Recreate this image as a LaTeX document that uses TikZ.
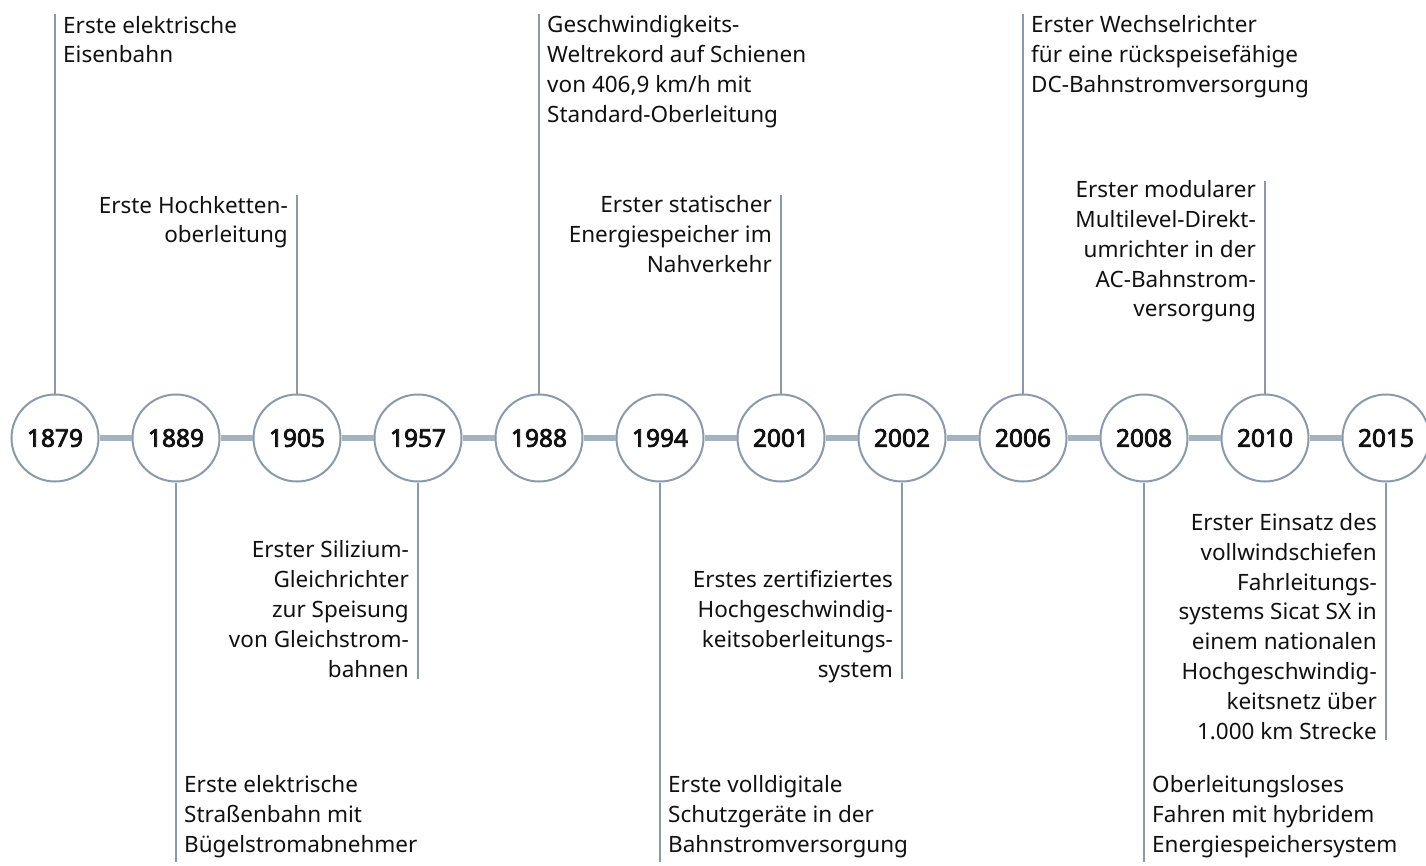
\documentclass[tikz,border=0pt]{standalone}
\usepackage{fontspec}
\setmainfont{Noto Sans}
\newfontfamily\yearfont{Noto Sans}[FakeBold=3]
\definecolor{linec}{HTML}{8A9AAB}
\definecolor{barc}{HTML}{A5B2BF}
\definecolor{txtc}{HTML}{111111}
\begin{document}
\begin{tikzpicture}[x=1pt,y=-1pt,
  yearnode/.style={circle, draw=linec, line width=2pt, fill=white, minimum size=87pt, inner sep=0pt,
    font=\yearfont\fontsize{24.5}{24.5}\selectfont, text=txtc},
  bar/.style={draw=barc, line width=6pt},
  vline/.style={draw=linec, line width=2pt},
  ltxt/.style={inner sep=0pt, align=left, anchor=base west, text=txtc,
    font=\fontsize{22.5}{29.8}\selectfont},
  rtxt/.style={inner sep=0pt, align=right, anchor=base east, text=txtc,
    font=\fontsize{22.5}{29.8}\selectfont}]
\useasboundingbox (0,0) rectangle (1426,866);
% year circles
\foreach \yr [count=\i from 0] in {1879,1889,1905,1957,1988,1994,2001,2002,2006,2008,2010,2015}{
  \node[yearnode] (y\yr) at (55+121*\i, 438) {\yr};
}
% bars
\foreach \a/\b in {1879/1889,1889/1905,1905/1957,1957/1988,1988/1994,1994/2001,2001/2002,2002/2006,2006/2008,2008/2010,2010/2015}{
  \draw[bar] (y\a.east) -- (y\b.west);
}
% top events (anchor = baseline of last line)
\coordinate (c1879) at (55,14);
\draw[vline] (y1879.north) -- (c1879);
\node[ltxt] (t1879) at (63,63) {Erste elektrische\\Eisenbahn};

\coordinate (c1905) at (297,195);
\draw[vline] (y1905.north) -- (c1905);
\node[rtxt] (t1905) at (288,243) {Erste Hochketten-\\oberleitung};

\coordinate (c1988) at (539,14);
\draw[vline] (y1988.north) -- (c1988);
\node[ltxt] (t1988) at (547,122.4) {Geschwindigkeits-\\Weltrekord auf Schienen\\von 406,9 km/h mit\\Standard-Oberleitung};

\coordinate (c2001) at (781,195);
\draw[vline] (y2001.north) -- (c2001);
\node[rtxt] (t2001) at (772,272.6) {Erster statischer\\Energiespeicher im\\Nahverkehr};

\coordinate (c2006) at (1023,14);
\draw[vline] (y2006.north) -- (c2006);
\node[ltxt] (t2006) at (1031,92.6) {Erster Wechselrichter\\für eine rückspeisefähige\\DC-Bahnstromversorgung};

\coordinate (c2010) at (1265,181);
\draw[vline] (y2010.north) -- (c2010);
\node[rtxt] (t2010) at (1256,317) {Erster modularer\\Multilevel-Direkt-\\umrichter in der\\AC-Bahnstrom-\\versorgung};

% bottom events
\coordinate (c1889) at (176,862);
\draw[vline] (y1889.south) -- (c1889);
\node[ltxt] (t1889) at (184,852) {Erste elektrische\\Straßenbahn mit\\Bügelstromabnehmer};

\coordinate (c1957) at (418,679);
\draw[vline] (y1957.south) -- (c1957);
\node[rtxt] (t1957) at (409,677) {Erster Silizium-\\Gleichrichter\\zur Speisung\\von Gleichstrom-\\bahnen};

\coordinate (c1994) at (660,862);
\draw[vline] (y1994.south) -- (c1994);
\node[ltxt] (t1994) at (668,852) {Erste volldigitale\\Schutzgeräte in der\\Bahnstromversorgung};

\coordinate (c2002) at (902,679);
\draw[vline] (y2002.south) -- (c2002);
\node[rtxt] (t2002) at (893,677) {Erstes zertifiziertes\\Hochgeschwindig-\\keitsoberleitungs-\\system};

\coordinate (c2008) at (1144,862);
\draw[vline] (y2008.south) -- (c2008);
\node[ltxt] (t2008) at (1152,852) {Oberleitungsloses\\Fahren mit hybridem\\Energiespeichersystem};

\coordinate (c2015) at (1386,740);
\draw[vline] (y2015.south) -- (c2015);
\node[rtxt] (t2015) at (1377,739) {Erster Einsatz des\\vollwindschiefen\\Fahrleitungs-\\systems Sicat SX in\\einem nationalen\\Hochgeschwindig-\\keitsnetz über\\1.000 km Strecke};
\end{tikzpicture}
\end{document}
